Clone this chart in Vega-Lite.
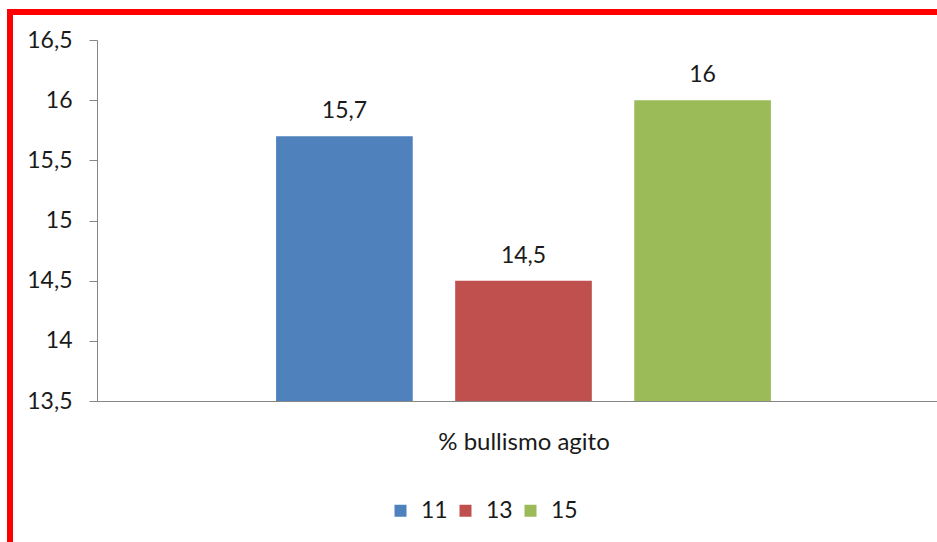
{
  "$schema": "https://vega.github.io/schema/vega-lite/v6.json",
  "autosize": {"type": "none"},
  "padding": {"left": 10, "top": 12, "right": -33, "bottom": -15},
  "width": 960,
  "height": 545,
  "background": "white",
  "data": {
    "values": [
      {"eta": "11", "valore": 15.7},
      {"eta": "13", "valore": 14.5},
      {"eta": "15", "valore": 16}
    ]
  },
  "encoding": {
    "x": {
      "field": "eta",
      "type": "nominal",
      "scale": {"range": [87, 940], "paddingInner": 0.237, "paddingOuter": 1.06},
      "axis": {
        "orient": "bottom",
        "offset": -156,
        "labels": false,
        "ticks": false,
        "domainColor": "#868686",
        "domainWidth": 1,
        "title": "% bullismo agito",
        "titleFont": "Lato",
        "titleFontSize": 24,
        "titleFontWeight": "normal",
        "titleColor": "#1a1a1a",
        "titlePadding": 29,
        "grid": false
      }
    },
    "y": {
      "field": "valore",
      "type": "quantitative",
      "scale": {"domain": [13.5, 16.5], "range": [389, 28], "zero": false, "nice": false},
      "axis": {
        "orient": "left",
        "offset": -87,
        "title": null,
        "values": [13.5, 14, 14.5, 15, 15.5, 16, 16.5],
        "format": "~g",
        "grid": false,
        "domainColor": "#868686",
        "tickColor": "#868686",
        "tickSize": 8,
        "labelPadding": 17,
        "labelFont": "Lato",
        "labelFontSize": 23,
        "labelColor": "#1a1a1a"
      }
    }
  },
  "layer": [
    {
      "mark": {"type": "bar"},
      "encoding": {
        "y2": {"datum": 13.5},
        "color": {
          "field": "eta",
          "type": "nominal",
          "scale": {"domain": ["11", "13", "15"], "range": ["#4F81BD", "#C0504D", "#9BBB59"]},
          "legend": {
            "title": null,
            "orient": "none",
            "legendX": 379,
            "legendY": 487,
            "direction": "horizontal",
            "symbolType": "square",
            "symbolSize": 144,
            "symbolStrokeWidth": 0,
            "labelFont": "Lato",
            "labelFontSize": 23,
            "labelColor": "#1a1a1a",
            "labelOffset": 9,
            "columnPadding": 6,
            "padding": 0
          }
        }
      }
    },
    {
      "mark": {"type": "text", "baseline": "alphabetic", "dy": -18, "font": "Lato", "fontSize": 23, "color": "#1a1a1a"},
      "encoding": {
        "text": {"field": "valore", "type": "quantitative", "format": "~g"}
      }
    }
  ],
  "config": {
    "view": {"stroke": "#FF0000", "strokeWidth": 6},
    "locale": {
      "number": {"decimal": ",", "thousands": ".", "grouping": [3], "currency": ["€", ""]}
    }
  }
}
